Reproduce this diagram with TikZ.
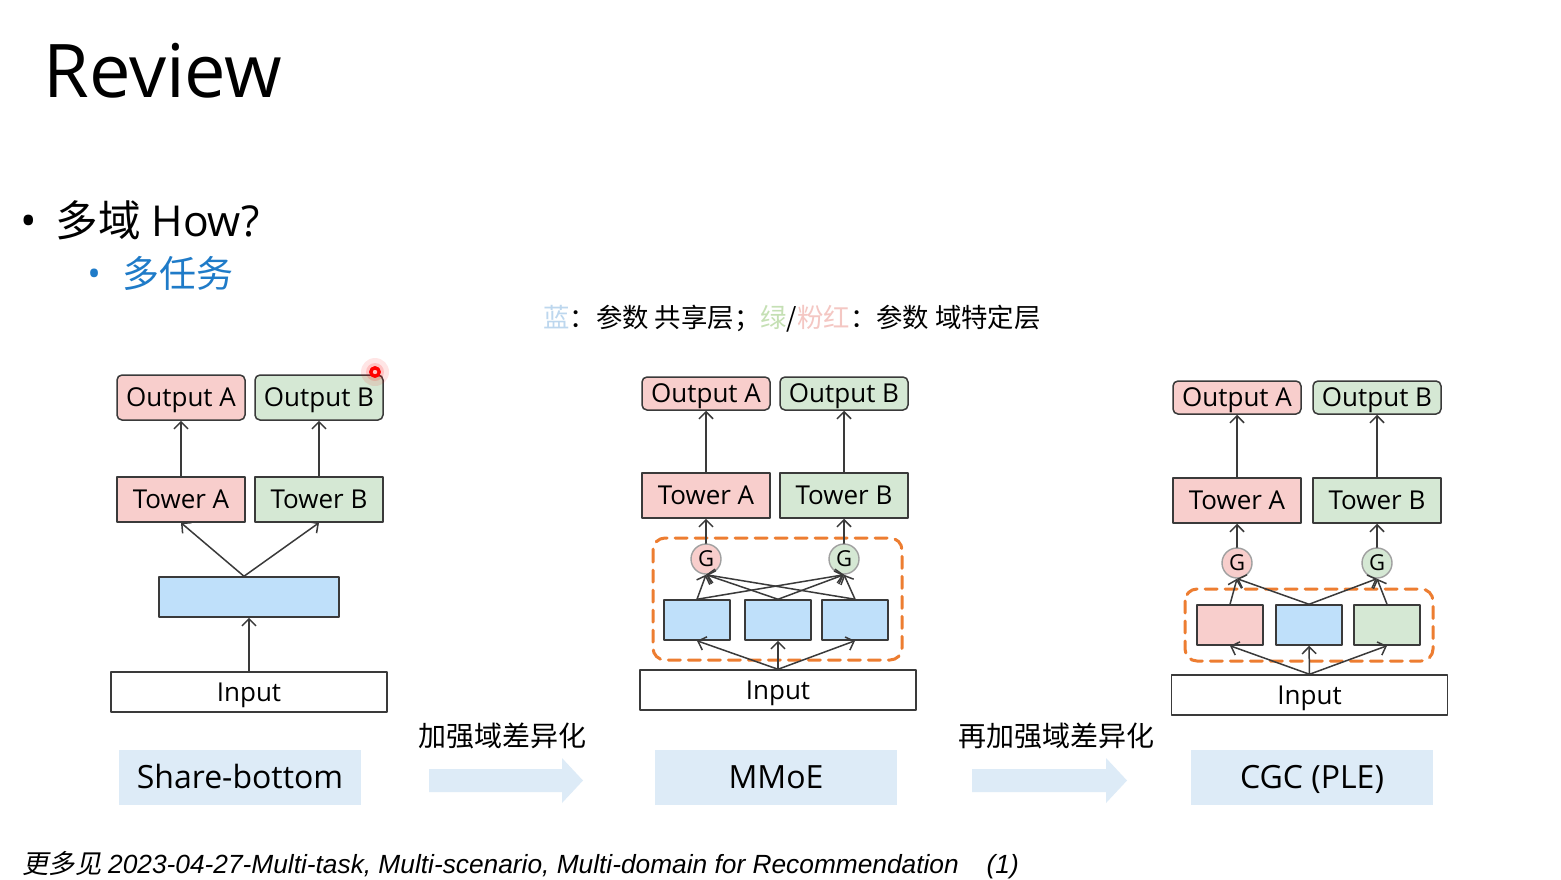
\documentclass[tikz,border=0pt]{standalone}
\usepackage{fontspec}
\setmainfont{Open Sans}
\newfontfamily\cjk{Noto Sans CJK SC}
\newfontfamily\cjkslant[FakeSlant=0.2]{Noto Sans CJK SC}
\newfontfamily\arialfont{Liberation Sans}
\usetikzlibrary{arrows.meta}
\usetikzlibrary{positioning}
\definecolor{pinkfill}{HTML}{F8CECC}
\definecolor{greenfill}{HTML}{D5E8D4}
\definecolor{bluefill}{HTML}{BFE0FA}
\definecolor{boxline}{HTML}{3A3A3A}
\definecolor{gateline}{HTML}{A0A0A0}
\definecolor{dashorange}{HTML}{ED7D31}
\definecolor{labblue}{HTML}{DDEBF7}
\definecolor{bulletblue}{HTML}{1F7BC8}
\definecolor{legblue}{HTML}{BDD7EE}
\definecolor{leggreen}{HTML}{C5E0B4}
\definecolor{legpink}{HTML}{F4C7C3}

\begin{document}
\begin{tikzpicture}[x=0.5pt,y=-0.5pt,line cap=round,line join=round,
  box/.style={draw=boxline,line width=0.75pt,inner sep=0pt,text height=9.3pt,text depth=0pt,font=\fontsize{13}{15}\selectfont},
  outbox/.style={box,rounded corners=2.5pt,minimum width=64pt},
  towerbox/.style={box,minimum width=64pt,minimum height=22.5pt},
  expbox/.style={box,fill=bluefill,minimum width=33pt,minimum height=20pt},
  inbox/.style={box,fill=white,minimum width=138pt,minimum height=20pt},
  gatenode/.style={circle,draw=gateline,line width=0.7pt,inner sep=0pt,minimum size=15pt,text height=7.8pt,text depth=0pt,font=\fontsize{11}{12}\selectfont},
  labbox/.style={fill=labblue,inner sep=0pt,minimum width=121pt,minimum height=27.5pt,text height=11.4pt,text depth=0pt,font=\fontsize{16}{18}\selectfont},
  dashbox/.style={draw=dashorange,line width=1.5pt,dash pattern=on 6pt off 4pt,rounded corners=6pt},
  arr/.style={draw=boxline,line width=0.75pt,-{Straight Barb[length=3.5pt,width=7pt]}}]
\useasboundingbox (0,0) rectangle (1561,879);
\fill[white] (0,0) rectangle (1561,879);

% heading and bullets
\node[anchor=base west,inner sep=0pt,font=\fontsize{37}{40}\selectfont] (title) at (43,97) {Review};
\node[anchor=base west,inner sep=0pt,font=\fontsize{22}{24}\selectfont] (bul1) at (20,236) {•};
\node[anchor=base west,inner sep=0pt,font=\fontsize{21.3}{24}\selectfont] (item1) at (55,236) {{\cjk 多域} How?};
\node[anchor=base west,inner sep=0pt,text=bulletblue,font=\fontsize{18}{20}\selectfont] (bul2) at (87,286) {•};
\node[anchor=base west,inner sep=0pt,text=bulletblue,font=\fontsize{18.5}{20}\selectfont\cjk] (item2) at (122,287) {多任务};
\node[anchor=base west,inner sep=0pt,font=\fontsize{13.2}{15}\selectfont\cjk] (legend) at (543,327)
  {{\color{legblue}蓝}：参数 共享层；{\color{leggreen}绿}/{\color{legpink}粉红}：参数 域特定层};

% share-bottom
\node[outbox,fill=pinkfill,minimum height=22.5pt] (oa1) at (181,397.5) {Output A};
\node[outbox,fill=greenfill,minimum height=22.5pt] (ob1) at (319,397.5) {Output B};
\node[towerbox,fill=pinkfill] (ta1) at (181,499.5) {Tower A};
\node[towerbox,fill=greenfill] (tb1) at (319,499.5) {Tower B};
\node[box,fill=bluefill,minimum width=90pt,minimum height=20pt] (sh1) at (249,597) {};
\node[inbox] (in1) at (249,692) {Input};
\draw[arr] (in1) -- (sh1);
\draw[arr] ([xshift=-2.5pt]sh1.north) -- (ta1.south);
\draw[arr] ([xshift=-2.5pt]sh1.north) -- (tb1.south);
\draw[arr] (ta1) -- (oa1);
\draw[arr] (tb1) -- (ob1);
\fill[red,opacity=0.10] (375,372) circle (7pt);
\fill[red,opacity=0.15] (375,372) circle (4.5pt);
\draw[red,line width=1.7pt] (375,372) circle (2.1pt);

% MMoE
\draw[dashbox] (653,538) rectangle (902,660);
\node[outbox,fill=pinkfill,minimum height=16.5pt] (oa2) at (706,393.5) {Output A};
\node[outbox,fill=greenfill,minimum height=16.5pt] (ob2) at (844,393.5) {Output B};
\node[towerbox,fill=pinkfill] (ta2) at (706,495.5) {Tower A};
\node[towerbox,fill=greenfill] (tb2) at (844,495.5) {Tower B};
\node[gatenode,fill=pinkfill] (ga2) at (706,559) {G};
\node[gatenode,fill=greenfill] (gb2) at (844,559) {G};
\node[expbox] (e21) at (697,620) {};
\node[expbox] (e22) at (778,620) {};
\node[expbox] (e23) at (855,620) {};
\node[inbox] (in2) at (778,690) {Input};
\foreach \e in {e21,e22,e23} {
  \draw[arr] (in2.north) -- (\e.south);
  \draw[arr] (\e.north) -- (ga2.south);
  \draw[arr] (\e.north) -- (gb2.south);
}
\draw[arr] (ga2) -- (ta2);
\draw[arr] (gb2) -- (tb2);
\draw[arr] (ta2) -- (oa2);
\draw[arr] (tb2) -- (ob2);

% CGC (PLE)
\draw[dashbox] (1185,589) rectangle (1433,661);
\node[outbox,fill=pinkfill,minimum height=16.5pt] (oa3) at (1237,397.5) {Output A};
\node[outbox,fill=greenfill,minimum height=16.5pt] (ob3) at (1377,397.5) {Output B};
\node[towerbox,fill=pinkfill] (ta3) at (1237,500.5) {Tower A};
\node[towerbox,fill=greenfill] (tb3) at (1377,500.5) {Tower B};
\node[gatenode,fill=pinkfill] (ga3) at (1237,563) {G};
\node[gatenode,fill=greenfill] (gb3) at (1377,563) {G};
\node[expbox,fill=pinkfill] (e31) at (1230,625) {};
\node[expbox] (e32) at (1309,625) {};
\node[expbox,fill=greenfill] (e33) at (1387,625) {};
\node[inbox] (in3) at (1309.5,695) {Input};
\foreach \e in {e31,e32,e33}
  \draw[arr] (in3.north) -- (\e.south);
\draw[arr] (e31.north) -- (ga3.south);
\draw[arr] (e32.north) -- (ga3.south);
\draw[arr] (e32.north) -- (gb3.south);
\draw[arr] (e33.north) -- (gb3.south);
\draw[arr] (ga3) -- (ta3);
\draw[arr] (gb3) -- (tb3);
\draw[arr] (ta3) -- (oa3);
\draw[arr] (tb3) -- (ob3);

% model names and fat arrows
\node[labbox] (lab1) at (240,777.5) {Share-bottom};
\node[labbox] (lab2) at (776,777.5) {MMoE};
\node[labbox] (lab3) at (1312,777.5) {CGC (PLE)};
\fill[labblue] (429,769) -- (562,769) -- (562,758) -- (583,780.5) -- (562,803) -- (562,792) -- (429,792) -- cycle;
\fill[labblue] (972,769) -- (1106,769) -- (1106,758) -- (1127,780.5) -- (1106,803) -- (1106,792) -- (972,792) -- cycle;
\node[anchor=base,inner sep=0pt,font=\fontsize{14}{16}\selectfont\cjk] (step1) at (502,746) {加强域差异化};
\node[anchor=base,inner sep=0pt,font=\fontsize{14}{16}\selectfont\cjk] (step2) at (1056,746) {再加强域差异化};

% footer
\node[anchor=base west,inner sep=0pt,font=\fontsize{13.15}{15}\selectfont] (foot) at (22,873)
  {{\cjkslant 更多见} {\arialfont\itshape 2023-04-27-Multi-task, Multi-scenario, Multi-domain for Recommendation\hspace{14pt}(1)}};
\end{tikzpicture}
\end{document}
